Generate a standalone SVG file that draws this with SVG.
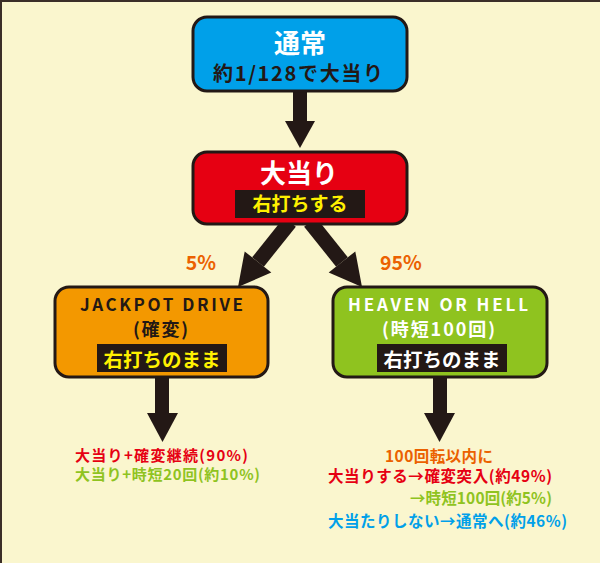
<svg xmlns="http://www.w3.org/2000/svg" width="600" height="563" viewBox="0 0 600 563">
<style>
text{font-family:"Noto Sans CJK JP","Noto Sans",sans-serif;font-weight:bold}
.box{stroke:#231815;stroke-width:3}
.lbl{fill:#231815}
.arrow{fill:#231815}
.shaft{stroke:#231815;stroke-width:15;fill:none}
.c{text-anchor:middle}
</style>
<rect x="0" y="0" width="600" height="563" fill="#FAF6CE"/>
<path d="M1,563 V1 H600" fill="none" stroke="#3a2e28" stroke-width="2"/>

<g id="connectors">
  <rect class="arrow" x="293" y="91" width="14" height="32"/>
  <polygon class="arrow" points="285,121 315,121 300,148"/>
  <line class="shaft" x1="290" y1="222" x2="258" y2="262"/>
  <polygon class="arrow" points="238,287 271.3,272.6 244.7,251.4"/>
  <line class="shaft" x1="310" y1="222" x2="342" y2="262"/>
  <polygon class="arrow" points="362,287 328.7,272.6 355.3,251.4"/>
  <rect class="arrow" x="155" y="377" width="14" height="38"/>
  <polygon class="arrow" points="147,413 178,413 162.5,442"/>
  <rect class="arrow" x="433" y="377" width="14" height="38"/>
  <polygon class="arrow" points="424,413 455,413 439.5,442"/>
  <text x="201" y="270" font-size="19.5" fill="#EB6100" class="c">5%</text>
  <text x="401" y="270" font-size="19.5" fill="#EB6100" class="c">95%</text>
</g>

<g id="normal">
  <rect class="box" x="193" y="17" width="214" height="74" rx="14" fill="#00A0E9"/>
  <text x="300" y="53" font-size="26" fill="#ffffff" class="c">通常</text>
  <text x="298" y="81" font-size="20" fill="#231815" class="c" textLength="170">約1/128で大当り</text>
</g>

<g id="jackpot">
  <rect class="box" x="193" y="152" width="214" height="72" rx="14" fill="#E60012"/>
  <text x="299" y="183" font-size="26" fill="#ffffff" class="c">大当り</text>
  <rect class="lbl" x="235" y="190" width="130" height="28"/>
  <text x="300" y="211" font-size="19" fill="#FFF100" class="c">右打ちする</text>
</g>

<g id="jackpot-drive">
  <rect class="box" x="55" y="287" width="213" height="90" rx="14" fill="#F39800"/>
  <text x="161.5" y="311" font-size="17" fill="#231815" class="c" textLength="163" font-weight="500">JACKPOT DRIVE</text>
  <text x="160.5" y="336" font-size="18" fill="#231815" class="c" textLength="55">(確変)</text>
  <rect class="lbl" x="97" y="344" width="130" height="28"/>
  <text x="162" y="367" font-size="19.5" fill="#FFF100" class="c">右打ちのまま</text>
</g>

<g id="heaven-or-hell">
  <rect class="box" x="333" y="287" width="214" height="90" rx="14" fill="#8FC31F"/>
  <text x="438" y="311" font-size="17" fill="#ffffff" class="c" textLength="180" font-weight="500">HEAVEN OR HELL</text>
  <text x="438.5" y="336" font-size="18" fill="#ffffff" class="c" textLength="113">(時短100回)</text>
  <rect class="lbl" x="377" y="344" width="130" height="28"/>
  <text x="442" y="367" font-size="19.5" fill="#ffffff" class="c">右打ちのまま</text>
</g>

<g id="result-left">
  <text x="75" y="461" font-size="15" fill="#E60012" textLength="173">大当り+確変継続(90%)</text>
  <text x="75" y="480" font-size="15" fill="#8FC31F" textLength="185">大当り+時短20回(約10%)</text>
</g>

<g id="result-right">
  <text x="439" y="462" font-size="15.5" fill="#EB6100" class="c" textLength="108">100回転以内に</text>
  <text x="328" y="482" font-size="15.5" fill="#E60012" textLength="224">大当りする→確変突入(約49%)</text>
  <text x="410" y="504" font-size="15.5" fill="#8FC31F" textLength="142">→時短100回(約5%)</text>
  <text x="328" y="527" font-size="15.5" fill="#00A0E9" textLength="239">大当たりしない→通常へ(約46%)</text>
</g>
</svg>
